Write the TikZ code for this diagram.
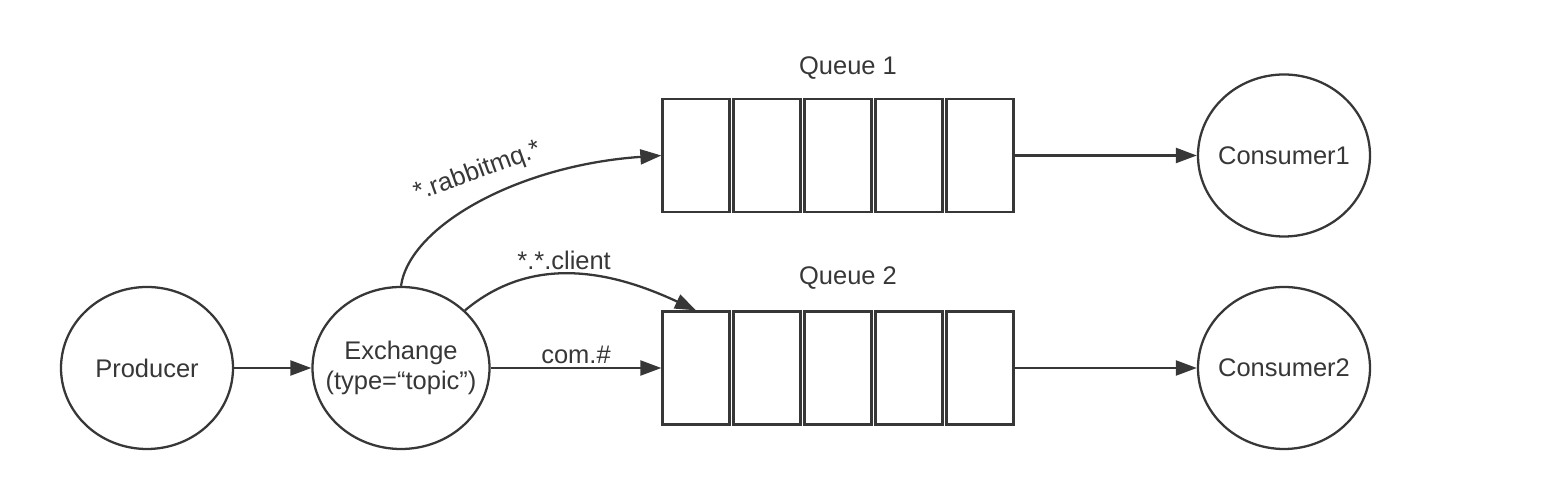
\documentclass[tikz,border=0pt]{standalone}
\usepackage{fontspec}
\setmainfont{Liberation Sans}
\usepackage{tikz}
\usetikzlibrary{arrows.meta,shapes.geometric}
\definecolor{ink}{RGB}{55,55,55}
\tikzset{
  actor/.style={draw=ink,ellipse,line width=1.3pt,minimum width=3.44cm,minimum height=3.24cm,
                inner sep=0pt,inner xsep=-0.2cm,align=center,text=ink,font=\fontsize{14.5}{17}\selectfont},
  cell/.style={draw=ink,line width=1.3pt,minimum width=1.34cm,minimum height=2.26cm,inner sep=0pt},
  qlabel/.style={text=ink,font=\fontsize{14.5}{17}\selectfont},
  rkey/.style={text=ink,font=\fontsize{14.5}{17}\selectfont,inner sep=2pt},
  arr/.style={-{Triangle[length=4.2mm,width=3mm]},line width=1.3pt,ink}
}
\begin{document}
\begin{tikzpicture}
  \useasboundingbox (0,0) rectangle (31.16,10.08);
  % producer and exchange
  \node[actor] (pr) at (2.94,2.72) {Producer};
  \node[actor,minimum width=3.54cm,inner xsep=-0.45cm] (ex) at (8.02,2.72) {Exchange\\(type=``topic'')};
  % queue 1
  \node[qlabel] (l1) at (16.96,8.72) {Queue 1};
  \node[cell] (q11) at (13.92,6.97) {}; \node[cell] (q12) at (15.34,6.97) {};
  \node[cell] (q13) at (16.76,6.97) {}; \node[cell] (q14) at (18.18,6.97) {};
  \node[cell] (q15) at (19.60,6.97) {};
  % queue 2
  \node[qlabel] (l2) at (16.96,4.52) {Queue 2};
  \node[cell] (q21) at (13.92,2.72) {}; \node[cell] (q22) at (15.34,2.72) {};
  \node[cell] (q23) at (16.76,2.72) {}; \node[cell] (q24) at (18.18,2.72) {};
  \node[cell] (q25) at (19.60,2.72) {};
  % consumers
  \node[actor] (c1) at (25.68,6.97) {Consumer1};
  \node[actor] (c2) at (25.68,2.72) {Consumer2};
  % routing keys
  \node[rkey,rotate=20] (k1) at (9.55,6.64) {*.rabbitmq.*};
  % bindings
  \draw[arr] (pr) -- (ex);
  \draw[arr] (ex.east) -- node[rkey,above] {com.\#} (q21.west);
  \draw[arr] (ex.north) .. controls (8.20,5.58) and (10.40,6.78) .. (q11.west);
  \draw[arr] (ex.42) to[out=40,in=155] node[rkey,pos=0.45,above] {*.*.client} (q21.north);
  \draw[arr] (q15.east) -- (c1.west);
  \draw[arr] (q25.east) -- (c2.west);
\end{tikzpicture}
\end{document}
